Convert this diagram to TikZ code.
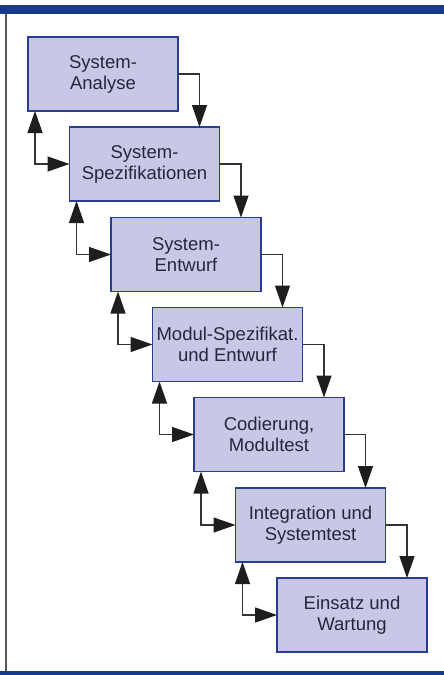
\documentclass[tikz,border=0pt]{standalone}
\usepackage{fontspec}
\setmainfont{Liberation Sans}
\usetikzlibrary{arrows.meta}
\definecolor{boxfill}{HTML}{C8C8E6}
\definecolor{boxline}{HTML}{2B3C94}
\definecolor{navy}{HTML}{153A8C}
\definecolor{txt}{HTML}{26263A}
\definecolor{arrline}{HTML}{333333}
\definecolor{arrhead}{HTML}{1E1E1E}
\tikzset{
  phase/.style={draw=boxline, line width=1.3pt, fill=boxfill, minimum width=150pt, minimum height=74pt,
    inner sep=0pt, outer sep=0pt, anchor=north west, align=center, text=txt,
    font=\fontsize{18.5pt}{21pt}\selectfont},
  tipp/.tip={Triangle[length=22pt,width=15pt,color=arrhead]},
  fwd/.style={draw=arrline, line width=1.3pt, -tipp},
  back/.style={draw=arrline, line width=1.3pt, tipp-tipp}
}
\begin{document}
\begin{tikzpicture}[x=1pt,y=-1pt]
\useasboundingbox (0,0) rectangle (444,675);
\fill[white] (0,0) rectangle (444,675);
\fill[navy] (0,5) rectangle (444,14);
\fill[navy] (0,671) rectangle (444,675);
\draw[gray!70!black, line width=1.2pt] (6,14) -- (6,671);

\node[phase] (b1) at (28,37) {System-\\Analyse};
\node[phase] (b2) at (69.5,127) {System-\\Spezifikationen};
\node[phase] (b3) at (111,217.5) {System-\\Entwurf};
\node[phase] (b4) at (152.5,307.5) {Modul-Spezifikat.\\und Entwurf};
\node[phase] (b5) at (194,397.5) {Codierung,\\Modultest};
\node[phase] (b6) at (235.5,488) {Integration und\\Systemtest};
\node[phase] (b7) at (277,578) {Einsatz und\\Wartung};

\foreach \a/\b in {b1/b2,b2/b3,b3/b4,b4/b5,b5/b6,b6/b7}{
  \draw[fwd] (\a.east) -| ([xshift=-20pt]\b.north east);
  \draw[back] (\b.west) -| ([xshift=7pt]\a.south west);
}
\end{tikzpicture}
\end{document}
